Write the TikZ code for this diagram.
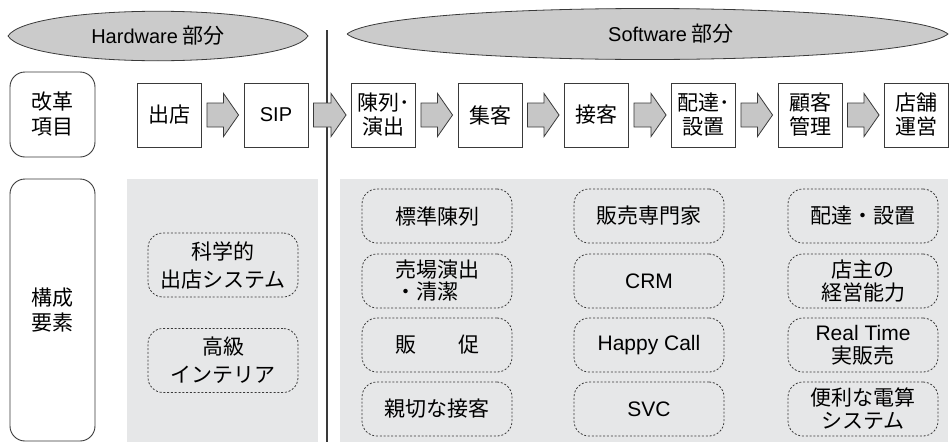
\documentclass[tikz,border=0pt]{standalone}
\usepackage{fontspec}
\setmainfont{Noto Sans CJK JP}
\newfontfamily\lat{Liberation Sans}
\usepackage{tikz}
\usetikzlibrary{calc}
\definecolor{linegray}{HTML}{3A3A3A}
\definecolor{lensgray}{HTML}{CBCBCB}
\definecolor{arrowgray}{HTML}{C6C6C6}
\definecolor{panelgray}{HTML}{E6E7E8}
\tikzset{ flow_box/.style = {rectangle, draw=linegray, fill=white, line width=0.9pt, minimum width=64, minimum height=64, inner sep=0pt, align=center, font=\fontsize{21}{24}\selectfont} }
\tikzset{ row_label/.style = {rectangle, rounded corners=15pt, draw=linegray, line width=0.9pt, minimum width=85, inner sep=0pt, align=center, font=\fontsize{21}{25}\selectfont} }
\tikzset{ element/.style = {rectangle, rounded corners=15pt, draw=linegray, line width=0.8pt, dash pattern=on 2pt off 1.8pt, minimum width=150, minimum height=54, inner sep=0pt, align=center, font=\fontsize{21}{24}\selectfont} }
\tikzset{ flow_arrow/.style = {fill=arrowgray, draw=linegray, line width=0.8pt} }
\tikzset{ part_lens/.style = {fill=lensgray, draw=linegray, line width=0.8pt} }
% grey block arrow from one box to the next
\newcommand{\blockarrow}[2]{%
  \draw[flow_arrow] let \p1 = (#1.east), \p2 = (#2.west) in
    (\x1+5pt,\y1+12pt) -- (\x2-20pt,\y1+12pt) -- (\x2-20pt,\y1+21.5pt) -- (\x2-5pt,\y1)
    -- (\x2-20pt,\y1-21.5pt) -- (\x2-20pt,\y1-12pt) -- (\x1+5pt,\y1-12pt) -- cycle;}

\begin{document}
\begin{tikzpicture}[x=1pt, y=-1pt]
    \useasboundingbox (0,0) rectangle (952,442);
    % parts
    \draw[part_lens] (8,36) .. controls (29,3) and (287,3) .. (308,36)
        .. controls (287,69) and (29,69) .. (8,36);
    \draw[part_lens] (347,34) .. controls (389,0) and (906,0) .. (948,34)
        .. controls (906,68) and (389,68) .. (347,34);
    \node[font=\fontsize{21}{24}\selectfont] (hw) at (158,36) {{\lat\fontsize{20}{24}\selectfont Hardware} 部分};
    \node[font=\fontsize{21}{24}\selectfont] (sw) at (671,34) {{\lat\fontsize{20}{24}\selectfont Software} 部分};

    % background panels
    \fill[panelgray] (127,179) rectangle (318,442);
    \fill[panelgray] (340,179) rectangle (948,442);

    % divider
    \coordinate (divtop) at (327,30);
    \coordinate (divbot) at (327,442);
    \draw[linegray, line width=1.2pt] (divtop) -- (divbot);

    % row labels
    \node[row_label, minimum height=85] (kaikaku) at (52.5,114.5) {改革\\項目};
    \node[row_label, minimum height=262] (kosei) at (52.5,310) {構成\\要素};

    % reform items
    \node[flow_box] (shuten) at (169.5,115) {出店};
    \node[flow_box] (sip) at (276,115) {{\lat\fontsize{20}{24}\selectfont SIP}};
    \node[flow_box] (chinretsu) at (383.5,115) {陳列･\\演出};
    \node[flow_box] (shukyaku) at (490,115) {集客};
    \node[flow_box] (sekkyaku) at (596.5,115) {接客};
    \node[flow_box] (haitatsu) at (703.5,115) {配達･\\設置};
    \node[flow_box] (kokyaku) at (810,115) {顧客\\管理};
    \node[flow_box] (tenpo) at (916.5,115) {店舗\\運営};
    \blockarrow{shuten}{sip}
    \blockarrow{sip}{chinretsu}
    \blockarrow{chinretsu}{shukyaku}
    \blockarrow{shukyaku}{sekkyaku}
    \blockarrow{sekkyaku}{haitatsu}
    \blockarrow{haitatsu}{kokyaku}
    \blockarrow{kokyaku}{tenpo}

    % elements, hardware
    \node[element, minimum height=64, font=\fontsize{21}{28}\selectfont] (kagaku) at (223,265) {科学的\\出店システム};
    \node[element, minimum height=64, font=\fontsize{21}{28}\selectfont] (interior) at (223,360.5) {高級\\インテリア};

    % elements, software
    \node[element] (hyojun) at (437,216) {標準陳列};
    \node[element, align=left, font=\fontsize{21}{22}\selectfont] (uriba) at (437,281) {売場演出\\・清潔};
    \node[element] (hansoku) at (437,345) {販　　促};
    \node[element] (shinsetsu) at (437,409) {親切な接客};

    \node[element] (senmonka) at (649,216) {販売専門家};
    \node[element] (crm) at (649,281) {{\lat CRM}};
    \node[element] (happy) at (649,345) {{\lat Happy Call}};
    \node[element] (svc) at (649,409) {{\lat SVC}};

    \node[element] (haichi) at (863,216) {配達・設置};
    \node[element, font=\fontsize{21}{23}\selectfont] (tenshu) at (863,281) {店主の\\経営能力};
    \node[element, font=\fontsize{21}{23}\selectfont] (realtime) at (863,345) {{\lat Real Time}\\実販売};
    \node[element, font=\fontsize{21}{23}\selectfont] (denzan) at (863,409) {便利な電算\\システム};
\end{tikzpicture}
\end{document}
